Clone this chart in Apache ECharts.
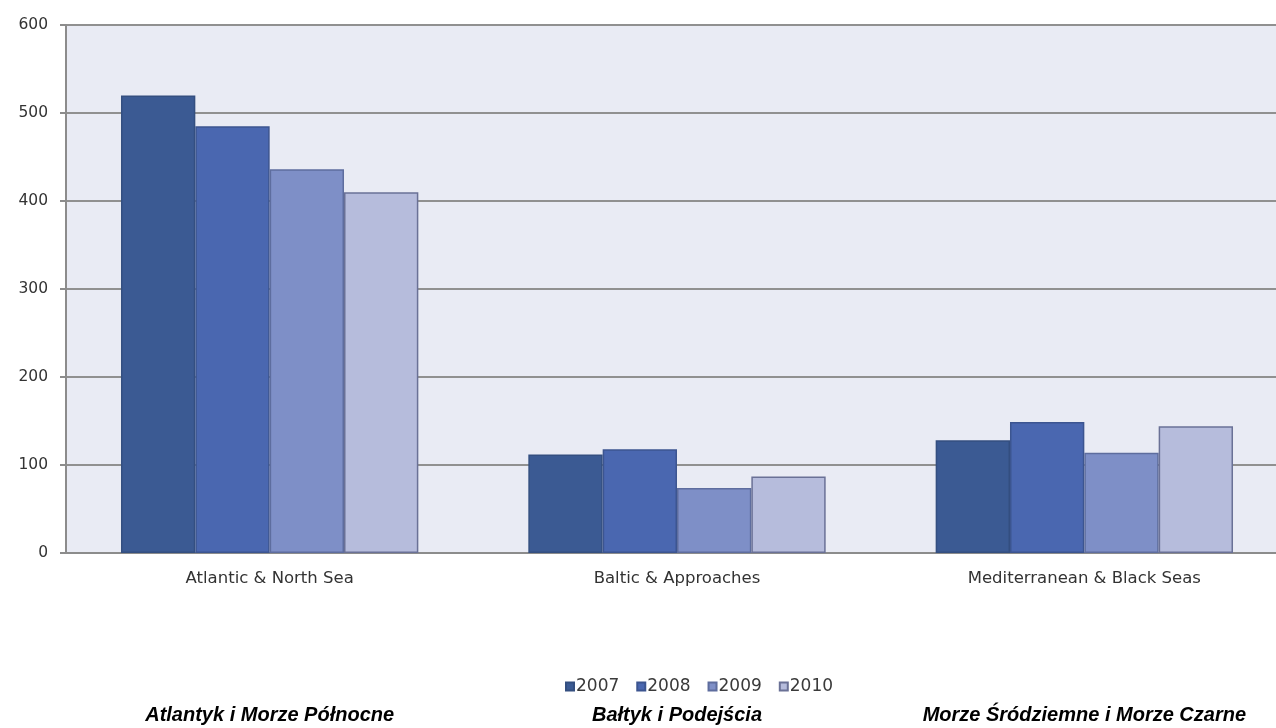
<!DOCTYPE html>
<html>
<head>
<meta charset="utf-8">
<script src="https://cdn.jsdelivr.net/npm/echarts@6/dist/echarts.min.js"></script>
<style>
  html, body { margin: 0; padding: 0; background: #ffffff; overflow: hidden; }
  #chart { width: 1292px; height: 728px; }
</style>
</head>
<body>
<div id="chart"></div>
<script>
// Sea regions (English axis names and Polish captions)
const categories = ['Atlantic & North Sea', 'Baltic & Approaches', 'Mediterranean & Black Seas'];
const categoriesPl = ['Atlantyk i Morze Północne', 'Bałtyk i Podejścia', 'Morze Śródziemne i Morze Czarne'];

// Yearly values per region
const years = ['2007', '2008', '2009', '2010'];
const values2007 = [520, 112, 128];
const values2008 = [485, 118, 149];
const values2009 = [436, 74, 114];
const values2010 = [410, 87, 144];

const yTicks = { min: 0, max: 600, interval: 100 };

const seriesValues = [values2007, values2008, values2009, values2010];
const fills = ['#3B5A93', '#4A67B0', '#7E8FC7', '#B6BCDC'];
const edges = ['#344f80', '#3c5590', '#5e6d9e', '#6a7196'];

const chart = echarts.init(document.getElementById('chart'), null, { renderer: 'canvas' });

chart.setOption({
  animation: false,
  backgroundColor: '#ffffff',
  grid: {
    left: 66, top: 25, width: 1222, height: 528,
    show: true, backgroundColor: '#E9EBF4', borderWidth: 0,
    containLabel: false
  },
  legend: {
    data: years,
    left: 560, top: 673,
    itemWidth: 8, itemHeight: 8, itemGap: 17,
    icon: 'rect',
    textStyle: { fontFamily: 'DejaVu Sans', fontSize: 17, color: '#3a3a3a', padding: [0, 0, 0, -3] }
  },
  xAxis: [
    {
      type: 'category',
      data: categories,
      position: 'bottom',
      axisLine: { show: true, lineStyle: { color: '#8c8c8c', width: 2 } },
      axisTick: { show: false },
      axisLabel: { fontFamily: 'DejaVu Sans', fontSize: 16.5, color: '#333333', margin: 17 }
    },
    {
      type: 'category',
      data: categoriesPl,
      position: 'bottom',
      offset: 146,
      axisLine: { show: false },
      axisTick: { show: false },
      axisLabel: {
        interval: 0,
        fontFamily: 'Liberation Sans', fontStyle: 'italic', fontWeight: 'bold',
        fontSize: 20, color: '#000000', margin: 6
      }
    }
  ],
  yAxis: {
    type: 'value',
    min: yTicks.min, max: yTicks.max, interval: yTicks.interval,
    axisLine: { show: true, lineStyle: { color: '#8c8c8c', width: 2 } },
    axisTick: { show: true, length: 6, lineStyle: { color: '#8c8c8c', width: 2 } },
    axisLabel: { fontFamily: 'DejaVu Sans', fontSize: 15.5, color: '#333333', margin: 18 },
    splitLine: { show: true, lineStyle: { color: '#909090', width: 2 } }
  },
  series: years.map((y, i) => ({
    name: y,
    type: 'bar',
    xAxisIndex: 0,
    data: seriesValues[i],
    barGap: '0%',
    barCategoryGap: '27%',
    itemStyle: { color: fills[i], borderColor: edges[i], borderWidth: 1.5 }
  }))
});
</script>
</body>
</html>
